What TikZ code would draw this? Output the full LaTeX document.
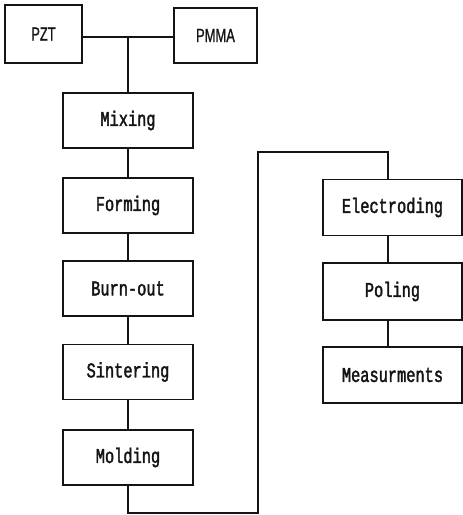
\documentclass[tikz,border=0pt]{standalone}
\usepackage{fontspec}
\usepackage{xcolor}
\usepackage{tikz}
\usetikzlibrary{positioning}
\newfontfamily\stepfont[FakeStretch=0.73,FakeBold=1.8]{Liberation Mono}
\newfontfamily\rawfont[FakeStretch=0.68,FakeBold=1]{Liberation Sans}
\definecolor{ChartInk}{gray}{0.08}
\tikzset{
  chart/.style={x=1pt,y=-1pt,line width=1.3pt,draw=ChartInk,text=ChartInk},
  stepbox/.style={draw=ChartInk,line width=1.3pt,minimum width=130pt,minimum height=55pt,
    inner sep=0pt,font=\stepfont\fontsize{21}{22}\selectfont},
  rawbox/.style={draw=ChartInk,line width=1.3pt,inner sep=0pt,
    font=\rawfont\fontsize{19}{20}\selectfont},
  link/.style={draw=ChartInk,line width=1.3pt},
}
\begin{document}
\begin{tikzpicture}[chart]
  \useasboundingbox (0,0) rectangle (463,515);

  % raw materials
  \node[rawbox,minimum width=77pt,minimum height=58pt] (pzt) at (43.5,34) {PZT};
  \node[rawbox,minimum width=83pt,minimum height=55pt] (pmma) at (215.5,35.5) {PMMA};

  % ceramic route
  \node[stepbox] (mixing) at (128,120.5) {Mixing};
  \node[stepbox] (forming) at (128,205.5) {Forming};
  \node[stepbox] (burnout) at (128,288.5) {Burn-out};
  \node[stepbox] (sintering) at (128,372) {Sintering};
  \node[stepbox] (molding) at (128,457.5) {Molding};

  % finishing
  \node[stepbox,minimum width=139pt,minimum height=56pt] (electroding) at (392.5,207.5) {Electroding};
  \node[stepbox,minimum width=139pt,minimum height=57pt] (poling) at (392.5,291.5) {Poling};
  \node[stepbox,minimum width=139pt,minimum height=56pt] (measure) at (392.5,375) {Measurments};

  \coordinate (join) at (128,37);
  \draw[link] (pzt.east |- join) -- (pmma.west |- join);
  \draw[link] (join) -- (mixing.north);
  \draw[link] (mixing) -- (forming);
  \draw[link] (forming) -- (burnout);
  \draw[link] (burnout) -- (sintering);
  \draw[link] (sintering) -- (molding);

  \coordinate (low) at (258,513);
  \coordinate (high) at (258,152);
  \draw[link] (molding.south) |- (low) -- (high) -| (electroding.north -| 388,0);
  \draw[link] (electroding.south -| 388,0) -- (poling.north -| 388,0);
  \draw[link] (poling.south -| 388,0) -- (measure.north -| 388,0);
\end{tikzpicture}
\end{document}
